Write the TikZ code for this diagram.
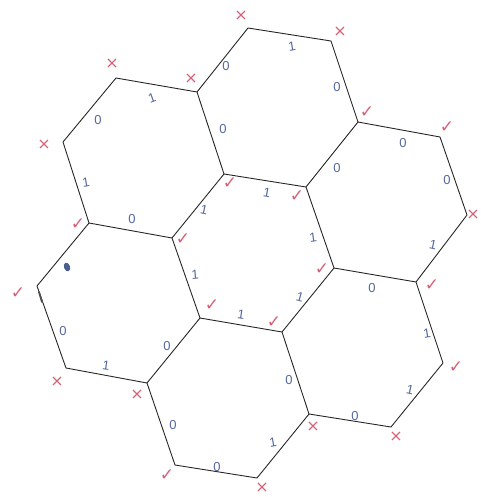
\documentclass[tikz,border=0pt]{standalone}
\usepackage{fontspec}
\setmainfont{Liberation Sans}
\newfontfamily\symf{DejaVu Sans}
\definecolor{inkred}{RGB}{214,96,118}
\definecolor{inkblue}{RGB}{84,104,160}
\begin{document}
\begin{tikzpicture}[x=1pt,y=-1pt,
  edge/.style={draw=black!85, line width=0.9pt, line join=round},
  dig/.style={text=inkblue, font=\fontsize{13}{13}\selectfont, inner sep=0pt},
  cmark/.style={text=inkred, font=\symf\fontsize{17}{17}\selectfont, inner sep=0pt},
  xmark/.style={text=inkred, font=\symf\fontsize{16}{16}\selectfont, inner sep=0pt}]
\useasboundingbox (0,0) rectangle (480,497);
% central hexagon vertices
\coordinate (c1) at (224,174);
\coordinate (c2) at (306,187);
\coordinate (c3) at (334,268);
\coordinate (c4) at (282,332);
\coordinate (c5) at (200,318);
\coordinate (c6) at (172,238);
% outer vertices
\coordinate (o1) at (248,28);
\coordinate (o2) at (331,41);
\coordinate (o3) at (358,122);
\coordinate (o4) at (440,137);
\coordinate (o5) at (467,215);
\coordinate (o6) at (416,282);
\coordinate (o7) at (443,363);
\coordinate (o8) at (391,427);
\coordinate (o9) at (309,414);
\coordinate (o10) at (257,478);
\coordinate (o11) at (175,465);
\coordinate (o12) at (147,383);
\coordinate (o13) at (66,368);
\coordinate (o14) at (37,286);
\coordinate (o15) at (89,223);
\coordinate (o16) at (63,142);
\coordinate (o17) at (116,78);
\coordinate (o18) at (197,92);
% edges
\draw[edge] (o1)--(o2)--(o3)--(o4)--(o5)--(o6)--(o7)--(o8)--(o9)--(o10)--(o11)--(o12)--(o13)--(o14)--(o15)--(o16)--(o17)--(o18)--cycle;
\draw[edge] (c1)--(c2)--(c3)--(c4)--(c5)--(c6)--cycle;
\draw[edge] (c1)--(o18);
\draw[edge] (c2)--(o3);
\draw[edge] (c3)--(o6);
\draw[edge] (c4)--(o9);
\draw[edge] (c5)--(o12);
\draw[edge] (c6)--(o15);
% smudge on left edge
\draw[black!70, line width=1.8pt, line cap=round] (39,292) -- (42,302);
% blob
\fill[inkblue!90!black, rotate around={20:(67,267)}] (67,267) ellipse (3pt and 4.5pt);
% edge labels (blue digits)
\node[dig] (e1) at (226,66) {0};
\node[dig, rotate=10] (e2) at (292,46) {1};
\node[dig] (e3) at (337,87) {0};
\node[dig] (e4) at (223,129) {0};
\node[dig, rotate=20] (e5) at (152,98) {1};
\node[dig] (e6) at (98,120) {0};
\node[dig, rotate=10] (e7) at (86,182) {1};
\node[dig] (e8) at (132,219) {0};
\node[dig, rotate=-12] (e9) at (204,210) {1};
\node[dig, rotate=-10] (e10) at (267,193) {1};
\node[dig] (e11) at (337,168) {0};
\node[dig] (e12) at (403,143) {0};
\node[dig] (e13) at (447,180) {0};
\node[dig, rotate=-12] (e14) at (433,245) {1};
\node[dig, rotate=8] (e15) at (313,238) {1};
\node[dig] (e16) at (372,288) {0};
\node[dig, rotate=-15] (e17) at (300,297) {1};
\node[dig, rotate=-8] (e18) at (241,315) {1};
\node[dig, rotate=5] (e19) at (195,275) {1};
\node[dig] (e20) at (63,331) {0};
\node[dig, rotate=-8] (e21) at (106,366) {1};
\node[dig] (e22) at (167,346) {0};
\node[dig] (e23) at (173,425) {0};
\node[dig] (e24) at (217,467) {0};
\node[dig, rotate=10] (e25) at (273,442) {1};
\node[dig] (e26) at (289,380) {0};
\node[dig] (e27) at (355,416) {0};
\node[dig, rotate=-12] (e28) at (410,390) {1};
\node[dig, rotate=10] (e29) at (427,333) {1};
% vertex marks (red)
\node[xmark] (m1) at (241,16) {×};
\node[xmark] (m2) at (340,32) {×};
\node[cmark] (m3) at (367,112) {✓};
\node[cmark] (m4) at (447,127) {✓};
\node[xmark] (m5) at (473,215) {×};
\node[cmark] (m6) at (432,285) {✓};
\node[cmark] (m7) at (456,367) {✓};
\node[xmark] (m8) at (396,437) {×};
\node[xmark] (m9) at (313,427) {×};
\node[xmark] (m10) at (262,488) {×};
\node[cmark] (m11) at (167,475) {✓};
\node[xmark] (m12) at (137,395) {×};
\node[xmark] (m13) at (57,382) {×};
\node[cmark] (m14) at (18,293) {✓};
\node[cmark] (m15) at (78,224) {✓};
\node[xmark] (m16) at (44,145) {×};
\node[xmark] (m17) at (112,64) {×};
\node[xmark] (m18) at (191,79) {×};
\node[cmark] (m19) at (230,183) {✓};
\node[cmark] (m20) at (297,196) {✓};
\node[cmark] (m21) at (322,269) {✓};
\node[cmark] (m22) at (274,322) {✓};
\node[cmark] (m23) at (212,305) {✓};
\node[cmark] (m24) at (183,239) {✓};
\end{tikzpicture}
\end{document}
